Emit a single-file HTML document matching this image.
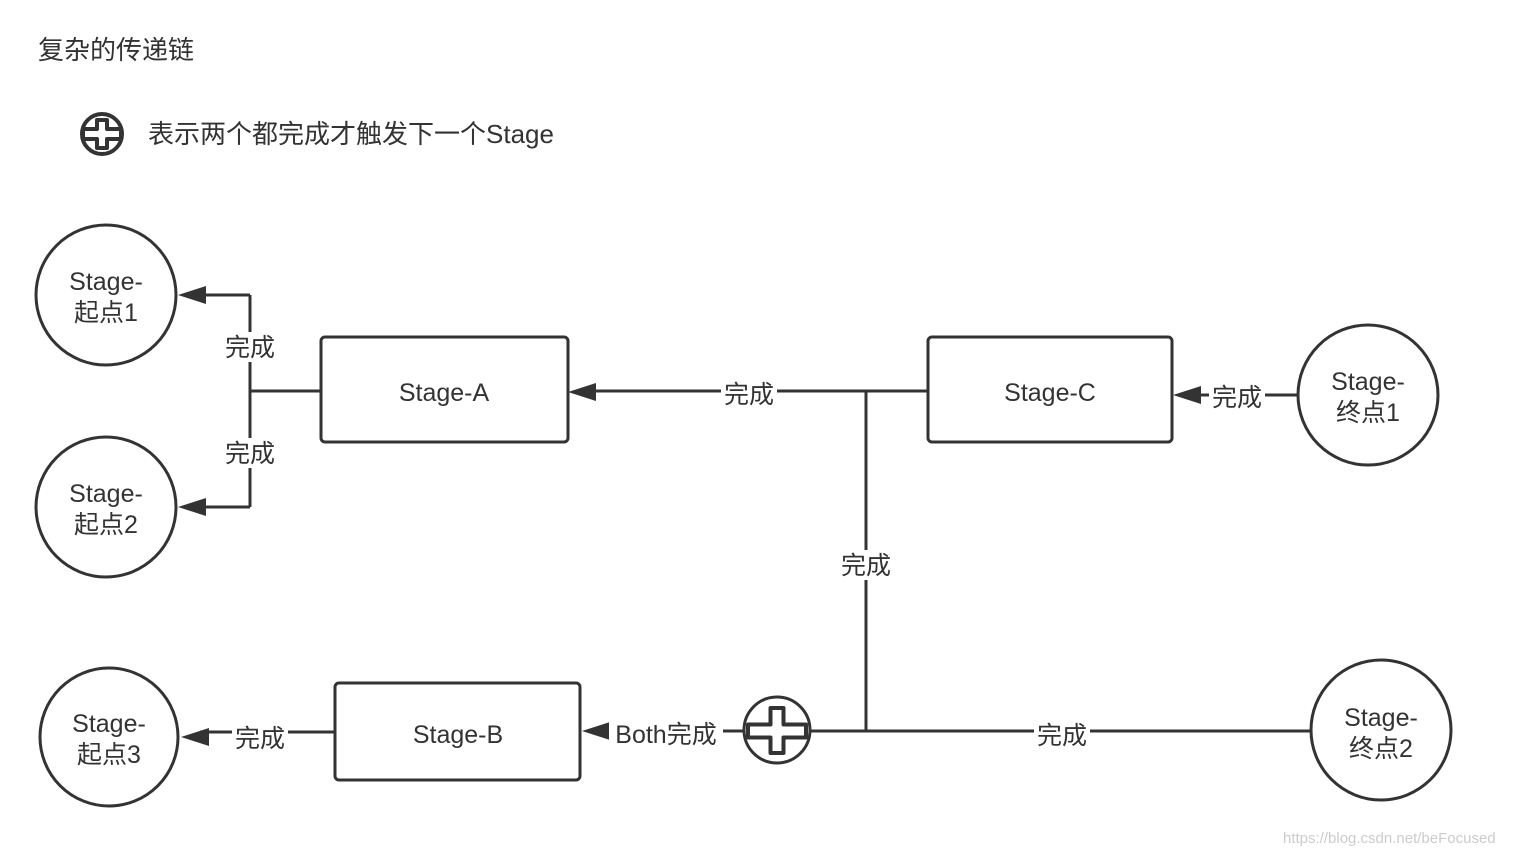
<!DOCTYPE html>
<html><head><meta charset="utf-8"><style>
body{margin:0;background:#fff;}
svg text{font-family:"Liberation Sans","Noto Sans CJK SC",sans-serif;fill:#333;}
</style></head><body>
<svg width="1516" height="856" viewBox="0 0 1516 856" xmlns="http://www.w3.org/2000/svg">
<text x="38" y="59" font-size="26">复杂的传递链</text>
<circle cx="102" cy="134" r="20" stroke="#333" stroke-width="4" fill="#fff"/>
<path d="M97 120h10v9h14v10h-14v9h-10v-9h-14v-10h14z" fill="#fff" stroke="#333" stroke-width="4" stroke-linejoin="round"/>
<text x="148" y="143" font-size="26">表示两个都完成才触发下一个Stage</text>

<g stroke="#333" stroke-width="3" fill="none">
<circle cx="106" cy="295" r="70"/>
<circle cx="106" cy="507" r="70"/>
<circle cx="109" cy="737" r="69"/>
<circle cx="1368" cy="395" r="70"/>
<circle cx="1381" cy="730" r="70"/>
<rect x="321" y="337" width="247" height="105" rx="4"/>
<rect x="928" y="337" width="244" height="105" rx="4"/>
<rect x="335" y="683" width="245" height="97" rx="4"/>
<path d="M321 391H250M250 295V507M250 295H200M250 507H200"/>
<path d="M928 391H590M866 392V731"/>
<path d="M1311 731H810M744 731H600"/>
<path d="M335 732H200"/>
<path d="M1298 395H1195"/>
</g>
<g fill="#333">
<path d="M178 295l28-9v18z"/>
<path d="M178 507l28-9v18z"/>
<path d="M568 392l28-9v18z"/>
<path d="M582 731l28-9v18z"/>
<path d="M181 737l28-9v18z"/>
<path d="M1173 395l28-9v18z"/>
</g>
<circle cx="777" cy="730" r="33" stroke="#333" stroke-width="3" fill="#fff"/>
<path d="M770.5 708h13v16.5h22.5v13h-22.5v15.5h-13v-15.5h-22.5v-13h22.5z" fill="#fff" stroke="#333" stroke-width="4" stroke-linejoin="round"/>
<g font-size="25" text-anchor="middle">
<rect x="222" y="332" width="56" height="30" fill="#fff"/><text x="250" y="356">完成</text>
<rect x="222" y="438" width="56" height="30" fill="#fff"/><text x="250" y="462">完成</text>
<rect x="721" y="379" width="56" height="30" fill="#fff"/><text x="749" y="403">完成</text>
<rect x="838" y="550" width="56" height="30" fill="#fff"/><text x="866" y="574">完成</text>
<rect x="1034" y="720" width="56" height="30" fill="#fff"/><text x="1062" y="744">完成</text>
<rect x="609" y="719" width="114" height="30" fill="#fff"/><text x="666" y="743">Both完成</text>
<rect x="232" y="723" width="56" height="30" fill="#fff"/><text x="260" y="747">完成</text>
<rect x="1209" y="382" width="56" height="30" fill="#fff"/><text x="1237" y="406">完成</text>
<text x="444" y="401">Stage-A</text>
<text x="1050" y="401">Stage-C</text>
<text x="458" y="743">Stage-B</text>
<text x="106" y="290">Stage-</text><text x="106" y="321">起点1</text>
<text x="106" y="502">Stage-</text><text x="106" y="533">起点2</text>
<text x="109" y="732">Stage-</text><text x="109" y="763">起点3</text>
<text x="1368" y="390">Stage-</text><text x="1368" y="421">终点1</text>
<text x="1381" y="726">Stage-</text><text x="1381" y="757">终点2</text>
</g>
<text x="1283" y="843" font-size="15" style="fill:#ccc">https://blog.csdn.net/beFocused</text>
</svg>
</body></html>
